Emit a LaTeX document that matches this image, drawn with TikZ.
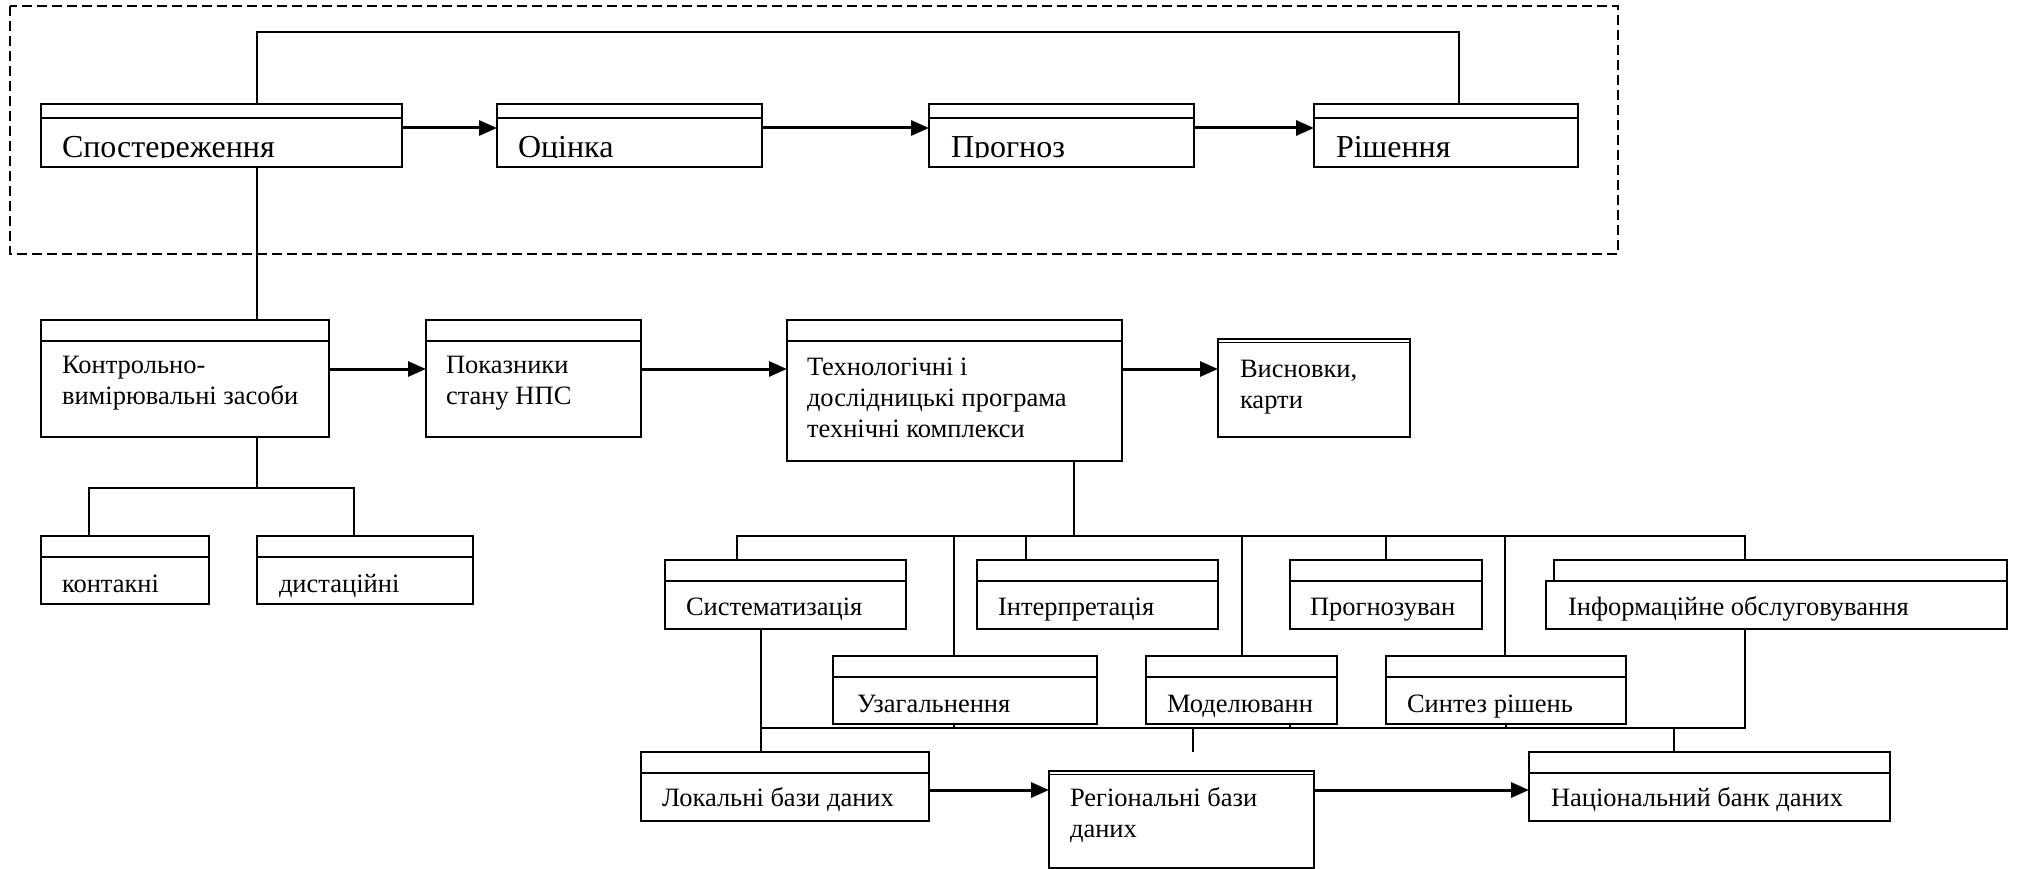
\documentclass[tikz,border=0pt]{standalone}
\usepackage{fontspec}
\setmainfont{Liberation Serif}
\usetikzlibrary{arrows.meta}
\tikzset{
  boxst/.style={draw, line width=2pt, inner sep=0pt, outer sep=0pt, anchor=north west},
  hdr/.style={line width=2pt},
  dbl/.style={line width=1.5pt},
  conn/.style={line width=1.6pt},
  arr/.style={line width=3pt, -{Triangle[length=18pt,width=15pt]}},
  frame/.style={line width=2pt, dash pattern=on 10pt off 5pt},
  txt/.style={anchor=base west, inner sep=0pt, outer sep=0pt, align=left, font=\fontsize{26.5}{31}\selectfont},
  bigtxt/.style={anchor=base west, inner sep=0pt, outer sep=0pt, font=\fontsize{32}{38}\selectfont},
}
% name x1 y1 x2 y2 ystripe
\newcommand\mkbox[6]{%
  \node[boxst, minimum width={#4pt-#2pt}, minimum height={#5pt-#3pt}] (#1) at (#2,#3) {};
  \draw[hdr] (#2,#6) -- (#4,#6);
}
% name x1 y1 x2 y2 (double top line)
\newcommand\mkplain[5]{%
  \node[boxst, minimum width={#4pt-#2pt}, minimum height={#5pt-#3pt}] (#1) at (#2,#3) {};
  \draw[dbl] (#2,#3+3.5) -- (#4,#3+3.5);
}
\begin{document}
\begin{tikzpicture}[x=1pt,y=-1pt]
\useasboundingbox (0,0) rectangle (2020,869);

% dashed frame
\draw[frame] (10,6) rectangle (1618,254);

% top row
\mkbox{spost}{41}{104}{402}{167}{118}
\mkbox{ots}{497}{104}{762}{167}{118}
\mkbox{prog}{929}{104}{1194}{167}{118}
\mkbox{rish}{1314}{104}{1578}{167}{118}
\begin{scope}
  \clip (41,119) rectangle (1578,157.5);
  \node[bigtxt] (spost-t) at (62,158) {Спостереження};
  \node[bigtxt] (ots-t) at (518,158) {Оцінка};
  \node[bigtxt] (prog-t) at (951,158) {Прогноз};
  \node[bigtxt] (rish-t) at (1336,158) {Рішення};
\end{scope}

% second row (multi-line texts are placed by the baseline of their last line)
\mkbox{kontr}{41}{320}{329}{437}{341}
\mkbox{pok}{426}{320}{641}{437}{341}
\mkbox{tech}{787}{320}{1122}{461}{341}
\mkplain{vysn}{1218}{339}{1410}{437}
\node[txt] (kontr-t) at (62,404) {Контрольно-\\вимірювальні засоби};
\node[txt] (pok-t) at (446,404) {Показники\\стану НПС};
\node[txt] (tech-t) at (807,437) {Технологічні і\\дослідницькі програма\\технічні комплекси};
\node[txt] (vysn-t) at (1240,408) {Висновки,\\карти};

% third row
\mkbox{kontak}{41}{536}{209}{604}{557}
\mkbox{dist}{257}{536}{473}{604}{557}
\node[txt] (kontak-t) at (62,592) {контакні};
\node[txt] (dist-t) at (279,592) {дистаційні};

% fourth row
\mkbox{sys}{665}{560}{906}{629}{581}
\mkbox{int}{977}{560}{1218}{629}{581}
\mkbox{progn}{1290}{560}{1482}{629}{581}
\node[boxst, minimum width={2007pt-1554pt}, minimum height={21pt}] (infoh) at (1554,560) {};
\node[boxst, minimum width={2007pt-1546pt}, minimum height={48pt}] (info) at (1546,581) {};
\node[txt] (sys-t) at (686,615) {Систематизація};
\node[txt] (int-t) at (998,615) {Інтерпретація};
\node[txt] (progn-t) at (1310,615) {Прогнозуван};
\node[txt] (info-t) at (1568,615) {Інформаційне обслуговування};

% fifth row
\mkbox{uzag}{833}{656}{1097}{724}{677}
\mkbox{mod}{1146}{656}{1337}{724}{677}
\mkbox{syn}{1386}{656}{1626}{724}{677}
\node[txt] (uzag-t) at (857,712) {Узагальнення};
\node[txt] (mod-t) at (1167,712) {Моделюванн};
\node[txt] (syn-t) at (1407,712) {Синтез рішень};

% bottom row
\mkbox{lok}{641}{752}{929}{821}{773}
\mkplain{reg}{1049}{771}{1314}{868}
\mkbox{nat}{1529}{752}{1890}{821}{773}
\node[txt] (lok-t) at (662,806) {Локальні бази даних};
\node[txt] (reg-t) at (1070,837) {Регіональні бази\\даних};
\node[txt] (nat-t) at (1551,806) {Національний банк даних};

% routing coordinates
\coordinate (ay1) at (0,128);
\coordinate (ay2) at (0,369);
\coordinate (ay3) at (0,790);
\coordinate (lpL) at (257,32);
\coordinate (lpR) at (1459,32);
\coordinate (kb) at (257,488);
\coordinate (kbL) at (89,488);
\coordinate (kbR) at (354,488);
\coordinate (tb) at (1074,536);
\coordinate (tbL) at (737,536);
\coordinate (tbR) at (1745,536);
\coordinate (dUz) at (954,536);
\coordinate (dIn) at (1026,536);
\coordinate (dMo) at (1242,536);
\coordinate (dPr) at (1386,536);
\coordinate (dSy) at (1505,536);
\coordinate (bL) at (761,728);
\coordinate (bR) at (1745,728);
\coordinate (tUz) at (954,728);
\coordinate (tMo) at (1290,728);
\coordinate (tSy) at (1506,728);
\coordinate (bReg) at (1193,728);
\coordinate (regEnd) at (1193,752);
\coordinate (bNat) at (1674,728);

% top loop and top arrows
\draw[conn] (spost.north -| lpL) -- (lpL) -- (lpR) -- (rish.north -| lpR);
\draw[arr] (spost.east |- ay1) -- (ots.west |- ay1);
\draw[arr] (ots.east |- ay1) -- (prog.west |- ay1);
\draw[arr] (prog.east |- ay1) -- (rish.west |- ay1);

% observation to measuring means
\draw[conn] (spost.south -| lpL) -- (kontr.north -| lpL);

% second row arrows
\draw[arr] (kontr.east |- ay2) -- (pok.west |- ay2);
\draw[arr] (pok.east |- ay2) -- (tech.west |- ay2);
\draw[arr] (tech.east |- ay2) -- (vysn.west |- ay2);

% measuring means subtree
\draw[conn] (kontr.south -| kb) -- (kb);
\draw[conn] (kontak.north -| kbL) -- (kbL) -- (kbR) -- (dist.north -| kbR);

% technology subtree
\draw[conn] (tech.south -| tb) -- (tb);
\draw[conn] (sys.north -| tbL) -- (tbL) -- (tbR) -- (infoh.north -| tbR);
\draw[conn] (dUz) -- (uzag.north -| dUz);
\draw[conn] (dIn) -- (int.north -| dIn);
\draw[conn] (dMo) -- (mod.north -| dMo);
\draw[conn] (dPr) -- (progn.north -| dPr);
\draw[conn] (dSy) -- (syn.north -| dSy);

% lower bus
\draw[conn] (sys.south -| bL) -- (lok.north -| bL);
\draw[conn] (info.south -| bR) -- (bR) -- (bL);
\draw[conn] (uzag.south -| tUz) -- (tUz);
\draw[conn] (mod.south -| tMo) -- (tMo);
\draw[conn] (syn.south -| tSy) -- (tSy);
\draw[conn] (bReg) -- (regEnd);
\draw[conn] (bNat) -- (nat.north -| bNat);

% bottom arrows
\draw[arr] (lok.east |- ay3) -- (reg.west |- ay3);
\draw[arr] (reg.east |- ay3) -- (nat.west |- ay3);
\end{tikzpicture}
\end{document}
